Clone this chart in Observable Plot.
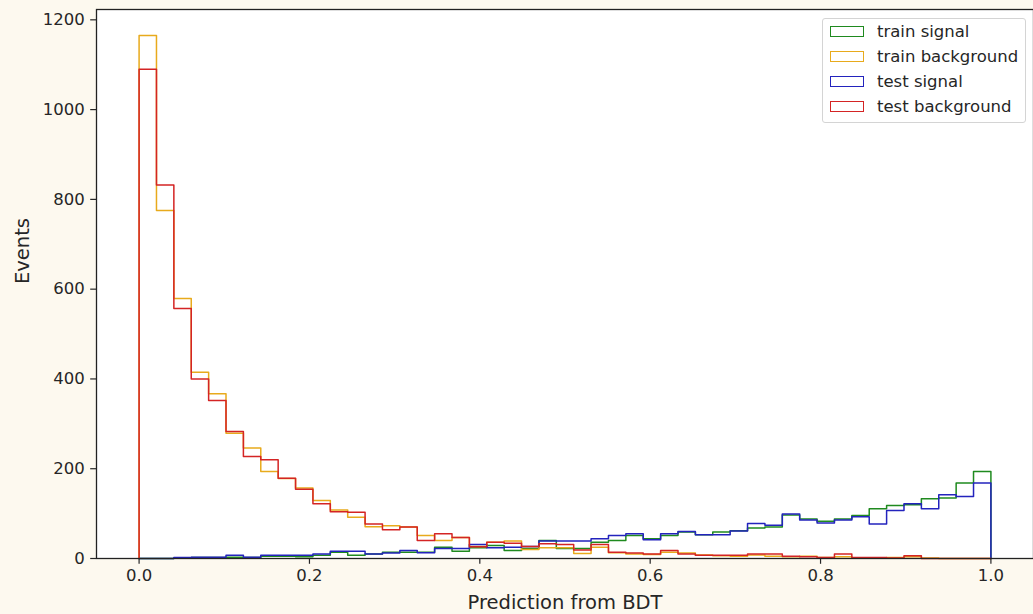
<!DOCTYPE html>
<html><head><meta charset="utf-8">
<script src="https://cdn.jsdelivr.net/npm/d3@7"></script>
<script src="https://cdn.jsdelivr.net/npm/@observablehq/plot@0.6"></script>
<style>
html,body{margin:0;padding:0;background:#fdf9ef;}
#wrap{position:relative;width:1033px;height:614px;overflow:hidden;font-family:"DejaVu Sans",sans-serif;}
#legend{position:absolute;left:822px;top:18px;width:204px;height:105px;border:1px solid #d4d4d4;border-radius:3px;background:rgba(255,255,255,0.85);box-sizing:border-box;}
.row{position:absolute;left:0;height:25px;}
.sw{position:absolute;left:7px;width:34px;height:11px;box-sizing:border-box;background:#fff;}
.lab{position:absolute;left:54px;font-size:16.5px;color:#262626;white-space:nowrap;line-height:25px;}
</style></head><body><div id="wrap"><div id="chart"></div><div id="legend"></div></div>
<script>
const seriesNames = ["train signal", "train background", "test signal", "test background"];
const seriesColors = ["#1f8a1f", "#e8aa1c", "#2323bd", "#d42424"];
// 49 bins, edges evenly spaced on [0, 1]
const trainSignal = [0,0,1,2,2,3,2,5,5,4,7,14,7,10,14,14,14,25,16,24,29,18,22,40,22,22,36,40,51,44,51,59,53,59,62,68,70,97,88,83,88,96,111,118,120,133,135,168,194];
const trainBackground = [1165,775,579,415,367,279,246,194,178,157,129,108,92,71,73,70,51,40,47,27,36,39,20,24,24,11,25,13,10,9,14,12,8,6,5,8,5,4,5,2,4,1,1,2,4,1,0,0,0];
const testSignal = [0,0,2,3,3,7,3,7,7,7,10,16,16,10,12,18,13,22,22,31,24,25,27,39,39,39,44,51,55,42,55,60,53,53,61,78,74,99,86,79,86,93,77,107,122,111,142,138,168];
const testBackground = [1090,832,557,400,352,283,227,220,179,154,122,104,103,77,64,70,40,55,47,26,36,34,27,33,31,19,31,14,12,10,18,10,7,7,7,10,10,5,4,2,10,2,2,1,6,0,0,0,0];
const xTicks = [0, 0.2, 0.4, 0.6, 0.8, 1.0];
const yTicks = [0, 200, 400, 600, 800, 1000, 1200];
const xLabel = "Prediction from BDT";
const yLabel = "Events";

const allSeries = [trainSignal, trainBackground, testSignal, testBackground];
const nBins = trainSignal.length;
function stepRows(name, values) {
  const rows = [{series: name, x: 0, y: 0}];
  values.forEach((v, k) => rows.push({series: name, x: k / nBins, y: v}));
  rows.push({series: name, x: 1, y: values[nBins - 1]});
  rows.push({series: name, x: 1, y: 0});
  return rows;
}
const rows = allSeries.flatMap((vals, i) => stepRows(seriesNames[i], vals));

const chart = Plot.plot({
  width: 1033, height: 614,
  marginLeft: 96, marginRight: 0, marginTop: 9, marginBottom: 56,
  style: {background: "transparent", fontFamily: "DejaVu Sans", fontSize: "16.5px", color: "#262626", overflow: "visible"},
  x: {domain: [-0.05, 1.05]},
  y: {domain: [0, 1223]},
  color: {domain: seriesNames, range: seriesColors},
  marks: [
    Plot.frame({fill: "white", stroke: "none"}),
    Plot.line(rows, {x: "x", y: "y", z: "series", stroke: "series", curve: "step-after", strokeWidth: 1.5}),
    Plot.frame({stroke: "#222", strokeWidth: 1.3}),
    Plot.axisX({ticks: xTicks, tickFormat: d3.format(".1f"), tickSize: 5.8, tickPadding: 5, label: null, strokeWidth: 1.2}),
    Plot.axisY({ticks: yTicks, tickFormat: d3.format("d"), tickSize: 5.8, tickPadding: 6, label: null, strokeWidth: 1.2}),
    Plot.text([xLabel], {frameAnchor: "bottom", dy: 44, text: d => d, fontSize: 19.5, lineAnchor: "middle", fill: "#262626"}),
    Plot.text([yLabel], {frameAnchor: "left", dx: -74, text: d => d, fontSize: 19.5, rotate: -90, lineAnchor: "middle", fill: "#262626"})
  ]
});
document.getElementById("chart").appendChild(chart);

const legend = document.getElementById("legend");
seriesNames.forEach((name, i) => {
  const row = document.createElement("div");
  row.className = "row";
  row.style.top = (0 + i * 25) + "px";
  const sw = document.createElement("div");
  sw.className = "sw";
  sw.style.border = "1.5px solid " + seriesColors[i];
  sw.style.top = "7px";
  const lab = document.createElement("div");
  lab.className = "lab";
  lab.textContent = name;
  lab.style.top = "0px";
  row.appendChild(sw); row.appendChild(lab);
  legend.appendChild(row);
});
</script>
</body></html>
